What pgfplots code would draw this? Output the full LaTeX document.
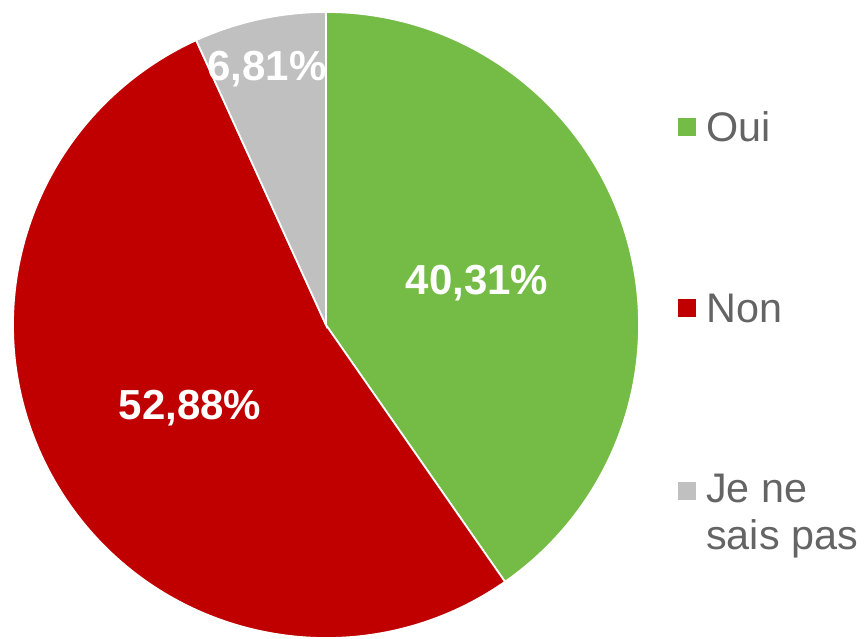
\documentclass[border=0pt]{standalone}
\usepackage{pgfplots}
\pgfplotsset{compat=1.18}
\usepackage{pgfplotstable}
\usepackage{fontspec}
\setmainfont{Liberation Sans}
\definecolor{cOui}{RGB}{116,188,69}
\definecolor{cNon}{RGB}{192,0,0}
\definecolor{cNsp}{RGB}{192,192,192}
\definecolor{legtxt}{RGB}{100,100,100}
\pgfplotstableread[col sep=comma]{
label,value
Oui,40.31
Non,52.88
Je ne sais pas,6.81
}\piedata
\begin{document}
\begin{tikzpicture}
\pgfplotstablegetelem{0}{value}\of\piedata \let\vA\pgfplotsretval
\pgfplotstablegetelem{1}{value}\of\piedata \let\vB\pgfplotsretval
\pgfplotstablegetelem{2}{value}\of\piedata \let\vC\pgfplotsretval
\pgfmathsetmacro\aA{90}
\pgfmathsetmacro\aB{\aA-3.6*\vA}
\pgfmathsetmacro\aC{\aB-3.6*\vB}
\pgfmathsetmacro\aD{\aC-3.6*\vC}
\def\R{234.75pt}
\begin{axis}[
  scale only axis, width=649.5pt, height=478.5pt,
  xmin=0, xmax=866, ymin=0, ymax=638,
  hide axis, clip=false,
]
\coordinate (BL) at (axis cs:0,0);
\coordinate (TR) at (axis cs:866,638);
\filldraw[fill=cOui, draw=white, line width=1.3pt] (axis cs:326,313) -- ++(\aA:\R) arc[start angle=\aA, end angle=\aB, radius=\R] -- cycle;
\filldraw[fill=cNon, draw=white, line width=1.3pt] (axis cs:326,313) -- ++(\aB:\R) arc[start angle=\aB, end angle=\aC, radius=\R] -- cycle;
\filldraw[fill=cNsp, draw=white, line width=1.3pt] (axis cs:326,313) -- ++(\aC:\R) arc[start angle=\aC, end angle=\aD, radius=\R] -- cycle;
\node[text=white, font=\fontsize{31.5}{36}\selectfont\bfseries] at (axis cs:477,355) {40,31\%};
\node[text=white, font=\fontsize{31.5}{36}\selectfont\bfseries] at (axis cs:190,230) {52,88\%};
\node[text=white, font=\fontsize{31.5}{36}\selectfont\bfseries] at (axis cs:267,569) {6,81\%};
% legend
\fill[cOui] (axis cs:678,502) rectangle (axis cs:696,520);
\fill[cNon] (axis cs:678,321) rectangle (axis cs:696,339);
\fill[cNsp] (axis cs:678,138) rectangle (axis cs:696,156);
\node[anchor=west, text=legtxt, inner sep=0pt, font=\fontsize{31}{35.5}\selectfont] at (axis cs:706,511) {Oui};
\node[anchor=west, text=legtxt, inner sep=0pt, font=\fontsize{31}{35.5}\selectfont] at (axis cs:706,330) {Non};
\node[anchor=west, text=legtxt, inner sep=0pt, align=left, font=\fontsize{31}{35.5}\selectfont] at (axis cs:706,122) {Je ne\\sais pas};
\end{axis}
\pgfresetboundingbox
\useasboundingbox (BL) rectangle (TR);
\end{tikzpicture}
\end{document}
